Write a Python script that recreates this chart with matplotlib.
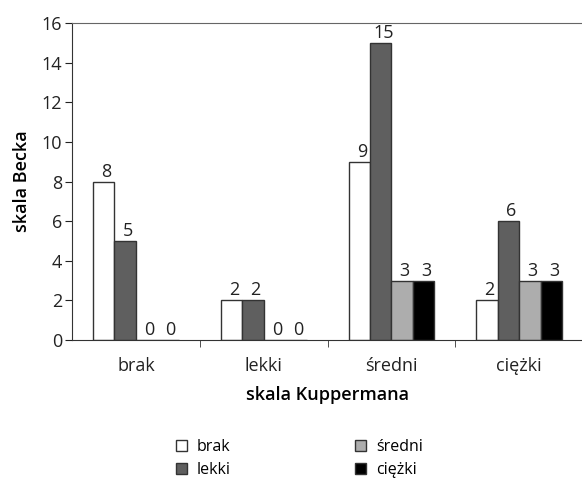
import numpy as np
import matplotlib
matplotlib.use("Agg")
from matplotlib import pyplot as plt
from matplotlib.patches import Patch

# data
categories = ["brak", "lekki", "średni", "ciężki"]
series_names = ["brak", "lekki", "średni", "ciężki"]
v_brak = [8, 2, 9, 2]
v_lekki = [5, 2, 15, 6]
v_sredni = [0, 0, 3, 3]
v_ciezki = [0, 0, 3, 3]
colors = ["#ffffff", "#5f5f5f", "#adadad", "#000000"]

plt.rcParams["font.family"] = ["Open Sans", "DejaVu Sans"]

fig = plt.figure(figsize=(5.82, 4.8), dpi=100)
ax = fig.add_axes([0.1237, 0.2917, 0.8783, 0.66])

x = np.arange(len(categories))
w = 0.168
series = [v_brak, v_lekki, v_sredni, v_ciezki]
for i, vals in enumerate(series):
	pos = x + (i - 1.5) * w
	bars = ax.bar(pos, vals, width=w, color=colors[i], edgecolor="#333333", linewidth=1.0)
	for b, v in zip(bars, vals):
		ax.text(b.get_x() + b.get_width() / 2 + 0.02, v + 0.05, str(v), ha="center", va="bottom",
				fontsize=13, color="#222222")

ax.set_xlim(-0.5, 3.5)
ax.set_ylim(0, 16)
ax.set_yticks(range(0, 17, 2))
ax.set_xticks(x)
ax.set_xticklabels(categories)
ax.set_xticks([0.5, 1.5, 2.5], minor=True)
ax.tick_params(axis="x", which="major", length=0, labelsize=13, pad=12, colors="#222222")
ax.tick_params(axis="x", which="minor", length=5, direction="out", color="#333333")
ax.tick_params(axis="y", length=5, direction="out", labelsize=13, pad=2, colors="#222222")

ax.spines["right"].set_visible(False)
ax.spines["top"].set_color("#666666")
ax.spines["left"].set_color("#333333")
ax.spines["bottom"].set_color("#333333")

ax.set_ylabel("skala Becka", fontsize=13, fontweight="semibold", labelpad=8)
ax.set_xlabel("skala Kuppermana", fontsize=13, fontweight="semibold", labelpad=8)

handles = [Patch(facecolor=c, edgecolor="#333333", linewidth=1.0) for c in colors]
fig.legend(handles, series_names, loc="upper left", bbox_to_anchor=(0.302, 0.086), ncol=2,
		   frameon=False, fontsize=11.5, handlelength=0.7, handleheight=0.7,
		   borderpad=0, borderaxespad=0,
		   columnspacing=7.8, labelspacing=0.45, handletextpad=0.6)

fig.savefig("out.png", dpi=100)
